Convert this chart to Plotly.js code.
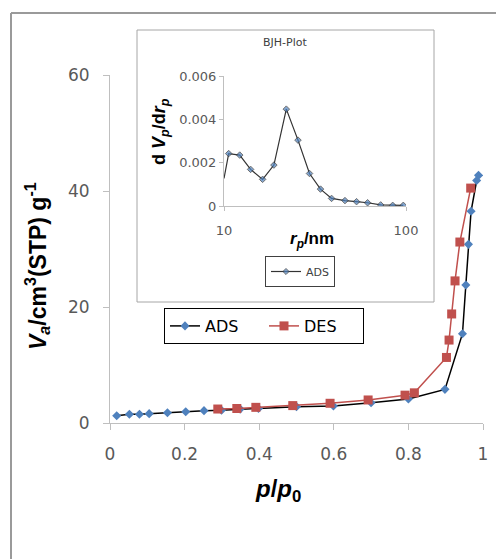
<!DOCTYPE html>
<html>
<head>
<meta charset="utf-8">
<script src="https://cdn.plot.ly/plotly-3.0.1.min.js"></script>
<style>html,body{margin:0;padding:0;background:#fff;}#chart{width:496px;height:559px;}</style>
</head>
<body>
<div id="chart"></div>
<script>
// ---- data ----
var adsX = [0.018,0.052,0.079,0.105,0.154,0.203,0.252,0.299,0.349,0.398,0.50,0.599,0.70,0.80,0.898,0.945,0.954,0.961,0.968,0.983,0.988];
var adsY = [1.26,1.5,1.5,1.61,1.78,1.95,2.13,2.2,2.4,2.5,2.82,2.93,3.5,4.14,5.8,15.4,23.8,30.8,36.5,41.8,42.7];
var desX = [0.967,0.938,0.925,0.916,0.909,0.902,0.816,0.791,0.692,0.59,0.49,0.391,0.340,0.289];
var desY = [40.5,31.2,24.5,18.8,14.3,11.3,5.2,4.8,3.97,3.4,3.0,2.7,2.5,2.41];
var bjhX = [10.0,10.61,12.2,14.0,16.3,18.8,22.0,25.5,29.5,33.9,39.0,46.2,53.5,61.5,72.6,84.5,96.6];
var bjhY = [0.00127,0.00242,0.00235,0.00169,0.00123,0.00189,0.00447,0.00304,0.00150,0.00078,0.00035,0.00025,0.0002,0.00015,0.00005,0.00003,0.00003];
var mainYTicks = [0,20,40,60];
var insetXTicks = [10,100];
var insetXTickText = ['10','100'];
var insetYTicks = [0,0.002,0.004,0.006];
var insetYTickText = ['0','0.002','0.004','0.006'];

// ---- layout helpers (pixel -> paper) ----
var W = 496, H = 559, L = 110, R = 13, T = 75, B = 136;
var PW = W - L - R, PH = H - T - B;
function px(x){ return (x - L) / PW; }
function py(y){ return (H - B - y) / PH; }

var blue = '#4f81bd', red = '#c0504d';
var axisGray = '#bfbfbf';

var traces = [
  {x: adsX, y: adsY, name: 'ADS', type: 'scatter', mode: 'lines+markers',
   line: {color: '#000000', width: 1.5},
   marker: {symbol: 'diamond', size: 7, color: blue}, xaxis: 'x', yaxis: 'y'},
  {x: desX, y: desY, name: 'DES', type: 'scatter', mode: 'lines+markers',
   line: {color: red, width: 1.5},
   marker: {symbol: 'square', size: 9, color: red}, xaxis: 'x', yaxis: 'y'},
  {x: bjhX, y: bjhY, name: 'ADS', type: 'scatter', mode: 'lines+markers',
   line: {color: '#333333', width: 1.2},
   marker: {symbol: 'diamond', size: bjhX.map(function(_, i){ return i === 0 ? 0 : 5; }), color: blue},
   xaxis: 'x2', yaxis: 'y2', legend: 'legend2'}
];

var tickFont = {family: 'DejaVu Sans', size: 17, color: '#595959'};

var layout = {
  width: W, height: H,
  margin: {l: L, r: R, t: T, b: B, pad: 0},
  paper_bgcolor: '#ffffff', plot_bgcolor: 'rgba(0,0,0,0)',
  showlegend: true,
  xaxis: {domain: [0, 1], range: [0, 1], dtick: 0.2, tick0: 0,
    showline: true, linecolor: axisGray, linewidth: 1,
    ticks: 'outside', ticklen: 6, tickcolor: axisGray,
    showgrid: false, zeroline: false, tickfont: tickFont, ticklabelstandoff: 10},
  yaxis: {domain: [0, 1], range: [0, 60], tickvals: mainYTicks,
    showline: true, linecolor: axisGray, linewidth: 1,
    ticks: 'outside', ticklen: 6, tickcolor: axisGray,
    showgrid: false, zeroline: false, tickfont: tickFont, ticklabelstandoff: 10},
  xaxis2: {domain: [px(224), px(406)], anchor: 'y2', type: 'log', range: [1, 2],
    tickvals: insetXTicks, ticktext: insetXTickText,
    showline: true, linecolor: axisGray, linewidth: 1,
    ticks: 'outside', ticklen: 4, tickcolor: axisGray,
    showgrid: true, gridcolor: axisGray, gridwidth: 1, zeroline: false,
    tickfont: {family: 'DejaVu Sans', size: 13, color: '#595959'}, ticklabelstandoff: 8},
  yaxis2: {domain: [py(206), py(76)], anchor: 'x2', range: [0, 0.006],
    tickvals: insetYTicks, ticktext: insetYTickText,
    showline: true, linecolor: axisGray, linewidth: 1,
    ticks: 'outside', ticklen: 4, tickcolor: axisGray,
    showgrid: false, zeroline: false,
    tickfont: {family: 'DejaVu Sans', size: 13, color: '#595959'}},
  legend: {orientation: 'h', x: px(164), y: py(308), xanchor: 'left', yanchor: 'top',
    bgcolor: '#ffffff', bordercolor: '#000000', borderwidth: 1,
    entrywidth: 54, entrywidthmode: 'pixels',
    font: {family: 'DejaVu Sans', size: 16, color: '#000000'}, traceorder: 'normal'},
  legend2: {orientation: 'h', x: px(265), y: py(256), xanchor: 'left', yanchor: 'top',
    bgcolor: '#ffffff', bordercolor: '#404040', borderwidth: 1,
    font: {family: 'DejaVu Sans', size: 11, color: '#404040'}},
  shapes: [
    {type: 'rect', xref: 'paper', yref: 'paper', x0: px(137), x1: px(434), y0: py(302), y1: py(30),
     fillcolor: '#ffffff', line: {color: '#a6a6a6', width: 1}, layer: 'below'},
    {type: 'line', xref: 'paper', yref: 'paper', x0: px(11), x1: px(11), y0: py(13), y1: py(600),
     line: {color: '#9a9a9a', width: 2}},
    {type: 'line', xref: 'paper', yref: 'paper', x0: px(11), x1: px(520), y0: py(13), y1: py(13),
     line: {color: '#9a9a9a', width: 2}}
  ],
  annotations: [
    {xref: 'paper', yref: 'paper', x: px(37), y: py(266), xanchor: 'center', yanchor: 'middle',
     textangle: -90, showarrow: false,
     text: '<i>V</i><sub><i>a</i></sub>/cm<sup>3</sup>(STP) g<sup>-1</sup>',
     font: {family: 'Liberation Sans', size: 23, color: '#000000', weight: 'bold'}},
    {xref: 'paper', yref: 'paper', x: px(278), y: py(490), xanchor: 'center', yanchor: 'middle',
     showarrow: false, text: '<i>p</i>/<i>p</i><sub>0</sub>',
     font: {family: 'Liberation Sans', size: 24, color: '#000000', weight: 'bold'}},
    {xref: 'paper', yref: 'paper', x: px(285), y: py(43), xanchor: 'center', yanchor: 'middle',
     showarrow: false, text: 'BJH-Plot',
     font: {family: 'DejaVu Sans', size: 11, color: '#404040'}},
    {xref: 'paper', yref: 'paper', x: px(160), y: py(132), xanchor: 'center', yanchor: 'middle',
     textangle: -90, showarrow: false,
     text: 'd <i>V</i><sub><i>p</i></sub>/d<i>r</i><sub><i>p</i></sub>',
     font: {family: 'Liberation Sans', size: 18, color: '#000000', weight: 'bold'}},
    {xref: 'paper', yref: 'paper', x: px(312), y: py(240), xanchor: 'center', yanchor: 'middle',
     showarrow: false, text: '<i>r</i><sub><i>p</i></sub>/nm',
     font: {family: 'Liberation Sans', size: 17, color: '#000000', weight: 'bold'}}
  ]
};

Plotly.newPlot('chart', traces, layout, {displayModeBar: false, staticPlot: true});
</script>
</body>
</html>
